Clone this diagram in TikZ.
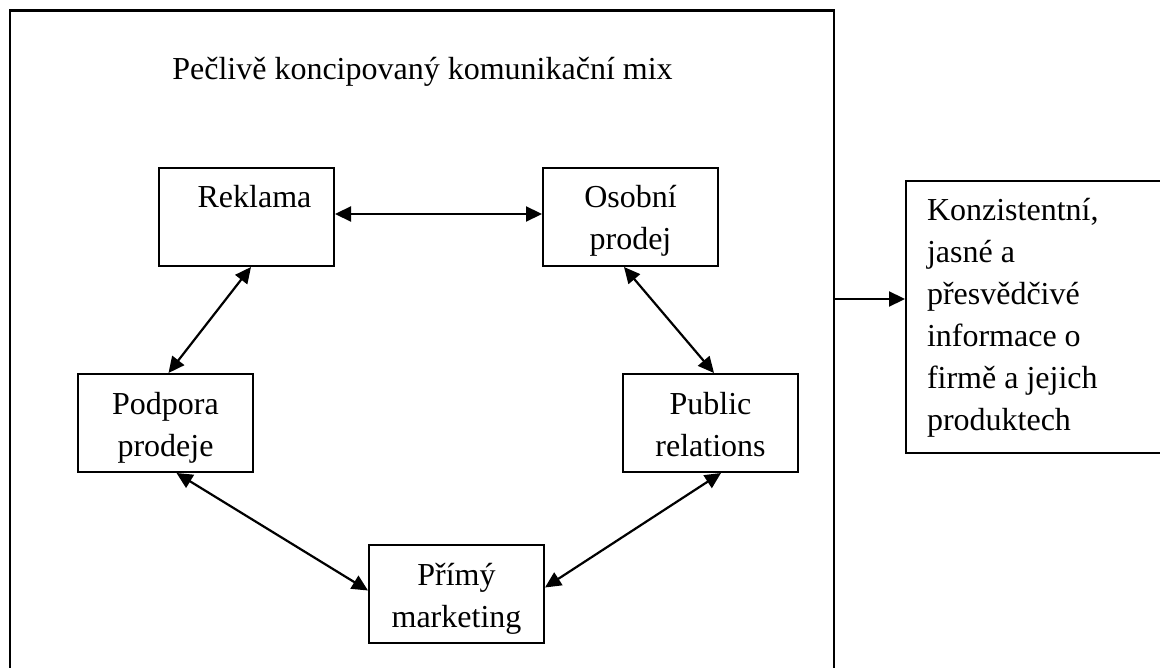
\documentclass[tikz,border=0pt]{standalone}
\usepackage{fontspec}
\setmainfont{Liberation Serif}
\usetikzlibrary{arrows.meta,calc}
% line struts: fixed 42pt pitch, shifted so the text sits a little high in each box
\newcommand{\ls}{\rule[-9pt]{0pt}{42pt}}
\newcommand{\lsr}{\rule[-12pt]{0pt}{42pt}}
\begin{document}
\begin{tikzpicture}[x=1pt,y=-1pt,
  txt/.style={font=\fontsize{32}{42}\selectfont},
  box/.style={txt,draw,line width=2pt,rectangle,anchor=north west,
    minimum width=175pt,minimum height=98pt,inner sep=0pt,align=center},
  tip/.tip={Triangle[length=16pt,width=15pt]},
  link/.style={line width=2.2pt,tip-tip},
  oneway/.style={line width=2.2pt,-tip}]
\useasboundingbox (0,0) rectangle (1160,668);
\clip (0,0) rectangle (1160,668);

% surrounding frame of the communication mix
\node (mix) [draw,line width=2.4pt,rectangle,anchor=north west,inner sep=0pt,
  minimum width=824.5pt,minimum height=700pt] at (8.5,9.5) {};
\node (title) [txt,anchor=base,inner sep=0pt] at (422.5,80)
  {Pečlivě koncipovaný komunikační mix};

% the five tools
\node (rek) [box] at (158,167) {\hspace*{16pt}Reklama\ls\\ \ls};
\node (oso) [box] at (542,167) {Osobní\ls\\prodej\ls};
\node (pod) [box] at (77,373)  {Podpora\ls\\prodeje\ls};
\node (pr)  [box] at (622,373) {Public\ls\\relations\ls};
\node (pm)  [box] at (368,544) {Přímý\ls\\marketing\ls};

% result
\node (out) [txt,draw,line width=2pt,rectangle,anchor=north west,
  inner xsep=21pt,inner ysep=0pt,text width=240pt,align=flush left,
  minimum height=272pt] at (905,180)
  {Konzistentní,\lsr\\jasné a\lsr\\přesvědčivé\lsr\\informace o\lsr\\firmě a jejich\lsr\\produktech\lsr};

% links between the tools
\draw[link] ([yshift=3pt]rek.east) -- ([yshift=3pt]oso.west);
\draw[link] ([xshift=4.5pt]rek.south) -- ([xshift=3pt]pod.north);
\draw[link] ([xshift=-6.5pt]oso.south) -- ([xshift=3.5pt]pr.north);
\draw[link] ([xshift=11pt]pod.south) -- ([yshift=3.5pt]pm.west);
\draw[link] ([xshift=10.5pt]pr.south) -- ([yshift=6.5pt]pm.east);

% from the mix to the result
\path ([yshift=18pt]out.west) coordinate (tap);
\draw[oneway] (tap -| mix.east) -- (tap);
\end{tikzpicture}
\end{document}
